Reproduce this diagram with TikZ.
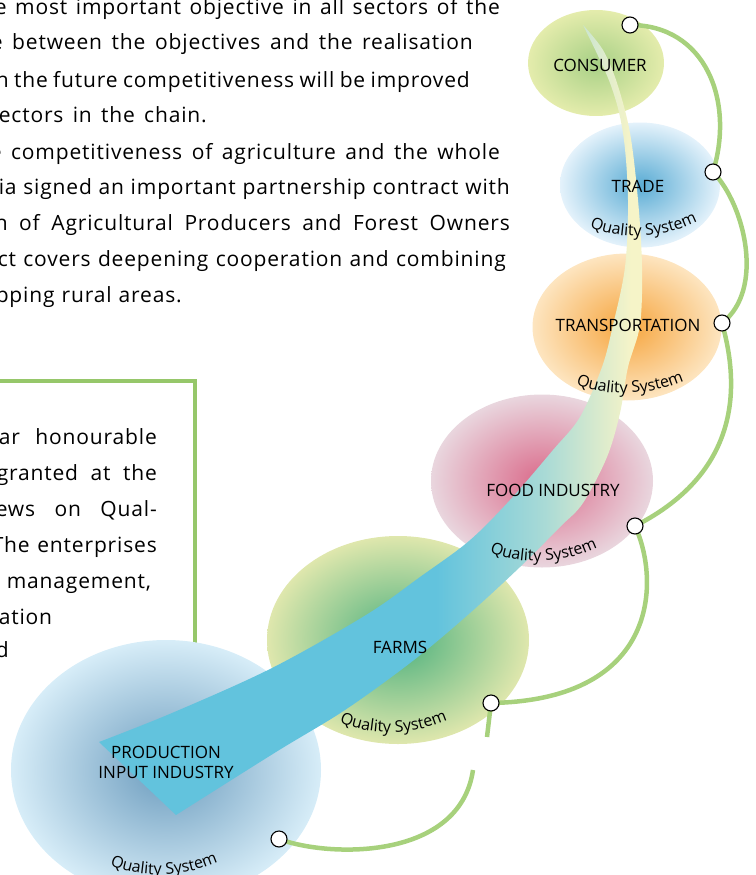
\documentclass[tikz,border=0pt]{standalone}
\usepackage{fontspec}
\setmainfont{Open Sans}
\usepackage{tikz}
\usepackage{xcolor}
\usetikzlibrary{shapes.geometric,decorations.text}

\definecolor{linkgreen}{HTML}{A7D17C}
\definecolor{boxgreen}{HTML}{96C76A}
\definecolor{rbblue}{HTML}{62C3DD}
\definecolor{rbmid}{HTML}{A9DAD6}
\definecolor{rbpale}{HTML}{F6F4C8}
\pgfdeclarehorizontalshading{ribbonfade}{100bp}{color(0bp)=(rbblue); color(56bp)=(rbblue); color(66bp)=(rbmid); color(74bp)=(rbpale); color(100bp)=(rbpale)}

\begin{document}
\begin{tikzpicture}[x=1pt, y=-1pt,
  blob/.style={ellipse, inner sep=0pt},
  port/.style={circle, draw=black, fill=white, line width=1.1pt, minimum size=16pt, inner sep=0pt},
  link/.style={draw=linkgreen, line width=4.5pt},
  sector/.style={font=\fontsize{17}{20}\selectfont, align=center, inner sep=0pt},
  body/.style={font=\fontsize{21}{25}\selectfont\addfontfeature{LetterSpace=4}, anchor=base east, inner sep=0pt},
  qual/.style={decorate, decoration={text along path, text align=center,
    text={|\fontsize{16}{18}\selectfont|Quality System}}}]
  % Fix the page and cut what runs over the edge
  \useasboundingbox (0,0) rectangle (755,875);
  \clip (0,0) rectangle (755,875);

  % Text of the page, justified and cut at the left edge
  \foreach \txt/\xr/\yy/\ww [count=\i] in {
      {e most important objective in all sectors of the}/500/15/505,
      {e between the objectives and the realisation}/473/50/482,
      {n the future competitiveness will be improved}/470/87/474,
      {ectors in the chain.}/207/122/208,
      {e competitiveness of agriculture and the whole}/500/159/510,
      {ia signed an important partnership contract with}/510/194/511,
      {n of Agricultural Producers and Forest Owners}/510/230/515,
      {ct covers deepening cooperation and combining}/506/266/508,
      {pping rural areas.}/182/302/186}
    \node[body] (top\i) at (\xr,\yy) {\makebox[\ww pt][s]{\txt}};

  % Green framed box
  \draw[boxgreen, line width=4.5pt] (-5,381) -- (195,381) -- (195,700);
  \foreach \txt/\xr/\yy/\ww [count=\i] in {
      {ar honourable}/157/444/158,
      {granted at the}/157/480/160,
      {ews on Qual-}/157/516/161,
      {The enterprises}/157/552/165,
      {management,}/157/588/150,
      {ation}/57/624/58,
      {d}/8/657/12}
    \node[body] (box\i) at (\xr,\yy) {\makebox[\ww pt][s]{\txt}};

  % Sector ellipses
  \node[blob, minimum width=136pt, minimum height=106pt, inner color={rgb,255:red,168;green,208;blue,134}, outer color={rgb,255:red,228;green,236;blue,172}] (consumer) at (596,63) {};
  \node[blob, minimum width=160pt, minimum height=125pt, inner color={rgb,255:red,90;green,172;blue,212}, outer color={rgb,255:red,228;green,242;blue,251}] (trade) at (640,185) {};
  \node[blob, minimum width=189pt, minimum height=147pt, inner color={rgb,255:red,246;green,165;blue,62}, outer color={rgb,255:red,253;green,229;blue,192}] (transport) at (627,327) {};
  \node[blob, minimum width=222pt, minimum height=173pt, inner color={rgb,255:red,218;green,106;blue,138}, outer color={rgb,255:red,233;green,214;blue,222}] (food) at (542,481) {};
  \node[blob, minimum width=262pt, minimum height=208pt, inner color={rgb,255:red,75;green,176;blue,125}, outer color={rgb,255:red,223;green,231;blue,173}] (farms) at (398,640) {};
  \node[blob, minimum width=310pt, minimum height=260pt, inner color={rgb,255:red,108;green,156;blue,190}, outer color={rgb,255:red,215;green,237;blue,248}] (production) at (166,770) {};

  % Ribbon running up the chain
  \shade[shading=ribbonfade]
    plot[smooth, tension=0.55] coordinates {(99,742) (172,713) (272,668) (366,615) (420,577) (469,541) (510,500) (553,450) (580,417) (602,367) (613,325) (625,267) (628,200) (623,133) (610,83) (583,25)}
    -- plot[smooth, tension=0.55] coordinates {(583,25) (603,50) (617,83) (630,133) (638,200) (642,267) (640,325) (628,367) (620,413) (607,457) (583,503) (560,527) (520,567) (470,613) (414,660) (345,710) (276,752) (176,815)}
    -- cycle;

  % Sector names
  \node[sector] (consumerlbl) at (600,65) {CONSUMER};
  \node[sector] (tradelbl) at (638,186) {TRADE};
  \node[sector] (transportlbl) at (628,325) {TRANSPORTATION};
  \node[sector] (foodlbl) at (553,490) {FOOD INDUSTRY};
  \node[sector] (farmslbl) at (400,647) {FARMS};
  \node[sector] (productionlbl) at (166,762) {PRODUCTION\\INPUT INDUSTRY};

  % Quality System along the lower rims
  \path[qual] (583,224) .. controls (615,241) and (665,241) .. (704,218);
  \path[qual] (568,380) .. controls (600,398) and (650,398) .. (692,377);
  \path[qual] (483,549) .. controls (515,566) and (565,566) .. (604,544);
  \path[qual] (333,719) .. controls (365,737) and (415,737) .. (454,717);
  \path[qual] (104,862) .. controls (135,879) and (185,879) .. (224,859);

  % Green links between the ports
  \coordinate (pconsumer) at (630,25);
  \coordinate (ptrade) at (713,172);
  \coordinate (ptransport) at (722,323);
  \coordinate (pfood) at (635,526);
  \coordinate (pfarms) at (491,703);
  \coordinate (pproduction) at (279,839);
  \coordinate (gaptop) at (487,737);
  \coordinate (gapbottom) at (473,770);
  \draw[link] (pconsumer) .. controls (705,25) and (735,100) .. (ptrade);
  \draw[link] (ptrade) .. controls (745,205) and (765,290) .. (ptransport);
  \draw[link] (ptransport) .. controls (738,380) and (745,470) .. (pfood);
  \draw[link] (pfood) .. controls (660,580) and (660,700) .. (pfarms);
  \draw[link] (pfarms) -- (gaptop);
  \draw[link] (gapbottom) .. controls (460,860) and (330,858) .. (pproduction);

  % Ports
  \foreach \p in {consumer,trade,transport,food,farms,production}
    \node[port] (\p port) at (p\p) {};
\end{tikzpicture}
\end{document}
